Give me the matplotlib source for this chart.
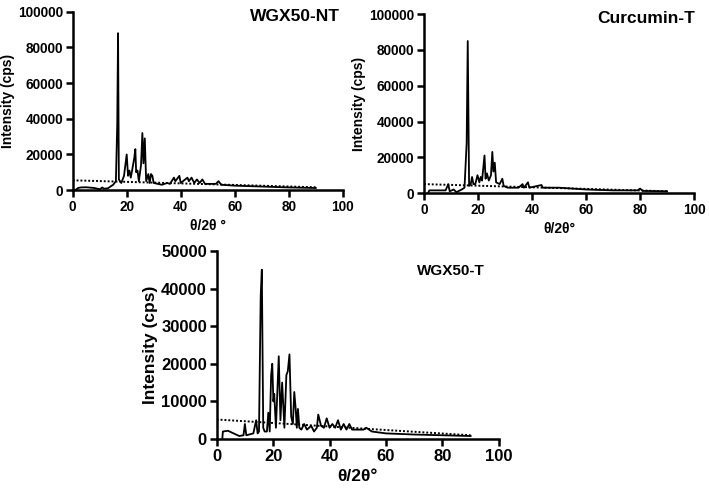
import matplotlib.pyplot as plt

plt.rcParams['font.family'] = ['Liberation Sans', 'DejaVu Sans']
plt.rcParams['font.weight'] = 'bold'

# WGX50-NT trace (2theta, cps)
nt_x = [1, 2, 3, 5, 8, 10, 11, 11.5, 13, 15, 16, 16.5, 16.8, 17.1, 17.5, 18, 19, 20,
        20.5, 21, 21.5, 22, 22.8, 23.2, 23.5, 24, 24.5, 25.3, 25.8, 26.2, 26.7, 27.2,
        28, 28.5, 29, 29.5, 30, 33, 35, 36, 37.5, 38, 39.5, 40, 42.5, 43, 44, 45, 46,
        47, 48, 49, 53, 54, 55, 60, 70, 80, 90]
nt_y = [0, 1200, 1500, 1600, 1200, 500, 1500, 800, 1000, 3000, 5000, 37000, 88000,
        6000, 5000, 4000, 8000, 20000, 8000, 11000, 7000, 11000, 18000, 23000, 10000,
        11000, 5000, 14000, 32000, 15000, 29000, 5000, 9000, 4000, 9000, 8000, 4000,
        3000, 4000, 3500, 7000, 5000, 8000, 4000, 7000, 5000, 7000, 4000, 6000, 4000,
        6000, 3500, 3500, 5000, 3000, 2500, 2000, 1500, 1200]
nt_base = [5500, 1600]

# Curcumin-T trace
cu_x = [1.5, 2, 8, 9, 9.5, 11, 12, 14, 15, 15.8, 16.2, 16.7, 17.3, 17.8, 18.3, 19,
        19.8, 20.5, 21, 21.5, 22.4, 22.8, 23.3, 24, 24.8, 25.3, 25.7, 26.2, 26.7, 28,
        29, 29.5, 31, 35, 36.5, 37, 38.5, 39, 42, 43.5, 44, 50, 55, 60, 70, 79, 80,
        81, 90]
cu_y = [0, 1500, 1500, 5000, 1000, 2000, 500, 2000, 3000, 28000, 85000, 4000, 5000,
        9000, 5000, 5000, 10000, 6000, 9000, 7000, 21000, 8000, 11000, 7000, 10000,
        23000, 12000, 17000, 6000, 5000, 8000, 4000, 3000, 3000, 5000, 3000, 6000,
        3000, 4000, 4500, 3000, 3000, 2500, 2000, 1500, 1500, 2500, 1200, 1000]
cu_base = [5000, 1000]

# WGX50-T trace
t_x = [2, 2.2, 4, 6, 8, 9.5, 10, 10.5, 13, 14, 14.5, 15, 15.6, 16, 16.5, 17, 17.8,
       18.3, 18.8, 19.3, 19.7, 20.1, 20.4, 21, 22, 22.6, 23.2, 24, 24.7, 25.2, 25.8,
       26.4, 27, 27.5, 28, 28.4, 28.8, 29.3, 30, 31, 32, 33.5, 34.5, 35.5, 36, 37, 38,
       39, 40, 41, 42, 43, 44, 45, 46, 47, 48, 52, 53, 55, 60, 70, 80, 90]
t_y = [0, 2000, 2200, 1500, 800, 1000, 4000, 1000, 1500, 5000, 1500, 2000, 38000,
       45000, 3000, 2000, 2000, 7000, 2000, 17000, 20000, 10000, 12000, 3000, 22000,
       5000, 15000, 3000, 17000, 18000, 22500, 6000, 4000, 12500, 8000, 3000, 8000,
       3000, 2500, 4000, 2500, 3500, 2000, 3000, 6500, 3500, 3000, 5500, 3000, 4000,
       3000, 5000, 2500, 4000, 2500, 4000, 2500, 2500, 3000, 2000, 1500, 1200, 1000, 800]
t_base = [5200, 1000]
base_x = [0, 90]

# rect, x, y, baseline, ymax, ystep, title, xlabel, font sizes (ticks, label, title), title pos
panels = [
    ([0.1025, 0.612, 0.381, 0.364], nt_x, nt_y, nt_base, 100000, 20000, 'WGX50-NT',
     'θ/2θ °', (9.8, 10, 12.5), (0.99, 1.015)),
    ([0.598, 0.606, 0.381, 0.365], cu_x, cu_y, cu_base, 100000, 20000, 'Curcumin-T',
     'θ/2θ°', (9.8, 10, 12.5), (1.005, 1.02)),
    ([0.3056, 0.104, 0.398, 0.384], t_x, t_y, t_base, 50000, 10000, 'WGX50-T',
     'θ/2θ°', (12, 12.5, 11), (0.95, 0.93)),
]

fig = plt.figure(figsize=(7.09, 4.9), dpi=100)
for rect, x, y, base, ymax, ystep, title, xlab, fs, tpos in panels:
    ax = fig.add_axes(rect)
    ax.plot(x, y, color='black', lw=1.3)
    ax.plot(base_x, base, color='black', lw=1.4, ls=(0, (1, 1)))
    ax.set_xlim(0, 100)
    ax.set_ylim(0, ymax)
    ax.set_xticks(range(0, 101, 20))
    ax.set_yticks(range(0, ymax + 1, ystep))
    for s in ['top', 'right']:
        ax.spines[s].set_visible(False)
    for s in ['left', 'bottom']:
        ax.spines[s].set_linewidth(1.8)
    ax.tick_params(width=1.8, length=5, labelsize=fs[0], pad=2)
    for lab in ax.get_xticklabels() + ax.get_yticklabels():
        lab.set_fontweight('bold')
    ax.set_ylabel('Intensity (cps)', fontsize=fs[1], fontweight='bold', labelpad=2)
    ax.set_xlabel(xlab, fontsize=fs[1], fontweight='bold', labelpad=4)
    ax.text(tpos[0], tpos[1], title, transform=ax.transAxes, ha='right', va='top',
            fontsize=fs[2], fontweight='bold')

fig.savefig('out.png', dpi=100)
